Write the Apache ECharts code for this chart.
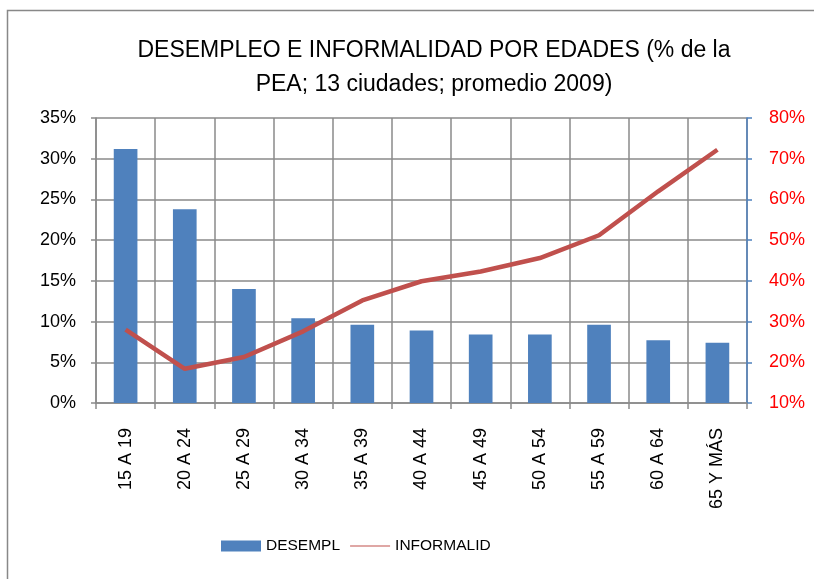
<!DOCTYPE html>
<html>
<head>
<meta charset="utf-8">
<script src="https://cdn.jsdelivr.net/npm/echarts@6/dist/echarts.min.js"></script>
<style>
  html, body { margin: 0; padding: 0; background: #fff; }
  #chart { width: 814px; height: 579px; }
</style>
</head>
<body>
<div id="chart"></div>
<script>
var edades = ['15 A 19', '20 A 24', '25 A 29', '30 A 34', '35 A 39', '40 A 44',
              '45 A 49', '50 A 54', '55 A 59', '60 A 64', '65 Y MÁS'];
var desempl = [31.2, 23.8, 14.0, 10.4, 9.6, 8.9, 8.4, 8.4, 9.6, 7.7, 7.4];
var informalid = [28.0, 18.4, 21.3, 27.6, 35.2, 39.9, 42.3, 45.6, 51.2, 62.0, 72.2];

var fuente = 'Liberation Sans';
var gris = '#8a8a8a';

var mychart = echarts.init(document.getElementById('chart'));
mychart.setOption({
  animation: false,
  textStyle: { fontFamily: fuente },
  title: {
    text: 'DESEMPLEO E INFORMALIDAD POR EDADES (% de la\nPEA; 13 ciudades; promedio 2009)',
    left: 429,
    top: 29,
    textAlign: 'center',
    textStyle: { fontSize: 23, fontWeight: 'normal', color: '#000', lineHeight: 34, fontFamily: fuente }
  },
  graphic: [{
    type: 'rect',
    shape: { x: 7.5, y: 10.5, width: 830, height: 600 },
    style: { fill: 'none', stroke: '#888', lineWidth: 1.5 },
    silent: true
  }],
  legend: {
    bottom: 20,
    left: 216,
    itemGap: 10,
    itemWidth: 40,
    itemHeight: 11,
    textStyle: { fontSize: 15.5, color: '#000', fontFamily: fuente },
    data: [
      { name: 'DESEMPL', icon: 'rect' },
      { name: 'INFORMALID', icon: 'path://M0,5L40,5L40,6L0,6Z' }
    ]
  },
  grid: { left: 96, right: 67, top: 118, bottom: 176 },
  xAxis: {
    type: 'category',
    data: edades,
    axisLine: { lineStyle: { color: gris, width: 1.5 } },
    axisTick: { show: true, length: 6, interval: 0, lineStyle: { color: gris, width: 1.5 } },
    splitLine: { show: true, interval: 0, lineStyle: { color: gris, width: 1.5 } },
    axisLabel: { rotate: 90, interval: 0, margin: 25, fontSize: 18, color: '#000', fontFamily: fuente }
  },
  yAxis: [{
    type: 'value',
    min: 0, max: 35, interval: 5,
    axisLine: { show: true, lineStyle: { color: gris, width: 1.5 } },
    axisTick: { show: true, length: 5, lineStyle: { color: gris, width: 1.5 } },
    splitLine: { show: true, lineStyle: { color: gris, width: 1.5 } },
    axisLabel: { formatter: '{value}%', margin: 20, fontSize: 18, color: '#000', fontFamily: fuente }
  }, {
    type: 'value',
    min: 10, max: 80, interval: 10,
    position: 'right',
    axisLine: { show: true, lineStyle: { color: '#4f81bd', width: 1.5 } },
    axisTick: { show: true, length: 5, lineStyle: { color: '#4f81bd', width: 1.5 } },
    splitLine: { show: false },
    axisLabel: { formatter: '{value}%', margin: 22, fontSize: 18, color: '#ff0000', fontFamily: fuente }
  }],
  series: [{
    name: 'DESEMPL',
    type: 'bar',
    data: desempl,
    barWidth: '40%',
    itemStyle: { color: '#4f81bd' }
  }, {
    name: 'INFORMALID',
    type: 'line',
    yAxisIndex: 1,
    data: informalid,
    symbol: 'none',
    itemStyle: { color: '#c0504d' },
    lineStyle: { color: '#c0504d', width: 4.5 }
  }]
});
</script>
</body>
</html>
